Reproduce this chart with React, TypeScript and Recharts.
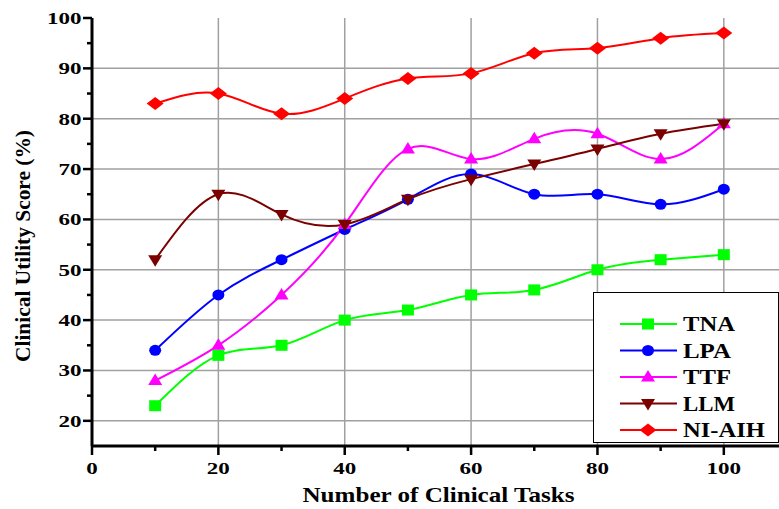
import React from 'react';
import { LineChart, Line, XAxis, YAxis, ReferenceLine } from 'recharts';

const tasks = [10, 20, 30, 40, 50, 60, 70, 80, 90, 100];
const tna = [23, 33, 35, 40, 42, 45, 46, 50, 52, 53];
const lpa = [34, 45, 52, 58, 64, 69, 65, 65, 63, 66];
const ttf = [28, 35, 45, 59, 74, 72, 76, 77, 72, 79];
const llm = [52, 65, 61, 59, 64, 68, 71, 74, 77, 79];
const niaih = [83, 85, 81, 84, 88, 89, 93, 94, 96, 97];

const xTicks = [0, 10, 20, 30, 40, 50, 60, 70, 80, 90, 100];
const xLabelTicks = [0, 20, 40, 60, 80, 100];
const topTicks = [11, 22, 33, 44, 55, 66, 77, 88, 99];
const topLongTicks = [22, 44, 66, 88];
const yTicks = [20, 25, 30, 35, 40, 45, 50, 55, 60, 65, 70, 75, 80, 85, 90, 95, 100];
const yLabelTicks = [20, 30, 40, 50, 60, 70, 80, 90, 100];
const xGrid = [20, 40, 60, 80, 100];
const yGrid = [20, 30, 40, 50, 60, 70, 80, 90];

const series = [
  { key: 'TNA', values: tna, color: '#00ff00', shape: 'square' },
  { key: 'LPA', values: lpa, color: '#0000ff', shape: 'circle' },
  { key: 'TTF', values: ttf, color: '#ff00ff', shape: 'up' },
  { key: 'LLM', values: llm, color: '#7b0000', shape: 'down' },
  { key: 'NI-AIH', values: niaih, color: '#ff0000', shape: 'diamond' },
];

const data = tasks.map((t, i) => {
  const row: any = { x: t };
  series.forEach((s) => (row[s.key] = s.values[i]));
  return row;
});

const FONT = 'Liberation Serif';
const txt = { fontFamily: FONT, fontWeight: 700 };

const Marker = ({ cx, cy, shape, color }: any) => {
  if (cx == null || cy == null) return null;
  switch (shape) {
    case 'square':
      return <rect x={cx - 6} y={cy - 5.5} width={12} height={11} fill={color} />;
    case 'circle':
      return <ellipse cx={cx} cy={cy} rx={6} ry={5.5} fill={color} />;
    case 'up':
      return <polygon points={`${cx},${cy - 7} ${cx + 7},${cy + 4.5} ${cx - 7},${cy + 4.5}`} fill={color} />;
    case 'down':
      return <polygon points={`${cx},${cy + 7} ${cx + 7},${cy - 4.5} ${cx - 7},${cy - 4.5}`} fill={color} />;
    default:
      return <polygon points={`${cx},${cy - 6.5} ${cx + 8.5},${cy} ${cx},${cy + 6.5} ${cx - 8.5},${cy}`} fill={color} />;
  }
};

const numWidth = (v: number) => String(v).length * 11.5;

const BottomTick = ({ x, y, payload }: any) => {
  const major = xLabelTicks.includes(payload.value);
  return (
    <g>
      <line x1={x} y1={y} x2={x} y2={y + (major ? 9 : 5)} stroke="#000" strokeWidth={2.5} />
      {major && (
        <text
          x={x}
          y={y + 28}
          textAnchor="middle"
          textLength={numWidth(payload.value)}
          lengthAdjust="spacingAndGlyphs"
          style={{ ...txt, fontSize: 16 }}
          fill="#000"
        >
          {payload.value}
        </text>
      )}
    </g>
  );
};

const TopTick = ({ x, y, payload }: any) => (
  <line x1={x} y1={y} x2={x} y2={y + (topLongTicks.includes(payload.value) ? 10 : 5)} stroke="#000" strokeWidth={2.5} />
);

const LeftTick = ({ x, y, payload }: any) => {
  const major = yLabelTicks.includes(payload.value);
  const w = numWidth(payload.value);
  return (
    <g>
      <line x1={x} y1={y} x2={x - (major ? 9 : 5)} y2={y} stroke="#000" strokeWidth={2.5} />
      {major && (
        <text
          x={x - 10.5 - w}
          y={y + 6}
          textLength={w}
          lengthAdjust="spacingAndGlyphs"
          style={{ ...txt, fontSize: 16 }}
          fill="#000"
        >
          {payload.value}
        </text>
      )}
    </g>
  );
};

const XTitle = ({ viewBox }: any) => {
  const cx = viewBox.x + viewBox.width / 2 - 1;
  return (
    <text
      x={cx - 136}
      y={502}
      textLength={272}
      lengthAdjust="spacingAndGlyphs"
      style={{ ...txt, fontSize: 22 }}
      fill="#000"
    >
      Number of Clinical Tasks
    </text>
  );
};

const YTitle = ({ viewBox }: any) => {
  const cy = viewBox.y + viewBox.height / 2 + 14;
  return (
    <text
      x={0}
      y={0}
      transform={`translate(30, ${cy}) rotate(-90)`}
      textAnchor="start"
      dx={-116}
      textLength={232}
      lengthAdjust="spacingAndGlyphs"
      style={{ ...txt, fontSize: 21 }}
      fill="#000"
    >
      Clinical Utility Score (%)
    </text>
  );
};

const legendTextWidth: Record<string, number> = { TNA: 52, LPA: 48, TTF: 48, LLM: 52, 'NI-AIH': 82 };

const LegendBox = () => (
  <div
    style={{
      position: 'absolute',
      left: 593,
      top: 292,
      border: '1.5px solid #000',
      background: '#fff',
      width: 186,
      height: 151,
      boxSizing: 'border-box',
    }}
  >
    <svg width={186} height={151} style={{ display: 'block', marginLeft: -1.5, marginTop: -1.5 }}>
      {series.map((s, i) => {
        const y = 32 + i * 26.5;
        return (
          <g key={s.key}>
            <line x1={27} y1={y} x2={84} y2={y} stroke={s.color} strokeWidth={2} />
            <Marker cx={55} cy={y} shape={s.shape} color={s.color} />
            <text
              x={90}
              y={y + 7}
              textLength={legendTextWidth[s.key]}
              lengthAdjust="spacingAndGlyphs"
              style={{ ...txt, fontSize: 20 }}
              fill="#000"
            >
              {s.key}
            </text>
          </g>
        );
      })}
    </svg>
  </div>
);

export default function App() {
  return (
    <div style={{ position: 'absolute', left: 0, top: 0, width: 779, height: 509, overflow: 'hidden', background: '#fff' }}>
      <LineChart width={790} height={509} data={data} margin={{ top: 18, right: 3, bottom: 0, left: 0 }}>
        <XAxis
          dataKey="x"
          type="number"
          domain={[0, 110]}
          ticks={xTicks}
          interval={0}
          height={63}
          tickSize={0}
          tickMargin={0}
          tickLine={false}
          tick={<BottomTick />}
          axisLine={{ stroke: '#000', strokeWidth: 3 }}
          label={<XTitle />}
        />
        <XAxis
          xAxisId="top"
          orientation="top"
          type="number"
          domain={[0, 110]}
          ticks={topTicks}
          interval={0}
          height={0}
          mirror
          tickSize={0}
          tickMargin={0}
          tickLine={false}
          tick={<TopTick />}
          axisLine={{ stroke: '#000', strokeWidth: 3 }}
        />
        <YAxis
          type="number"
          domain={[15, 100]}
          ticks={yTicks}
          interval={0}
          width={92}
          tickSize={0}
          tickMargin={0}
          tickLine={false}
          tick={<LeftTick />}
          axisLine={{ stroke: '#000', strokeWidth: 3 }}
          label={<YTitle />}
        />
        {xGrid.map((v) => (
          <ReferenceLine key={'gx' + v} x={v} stroke="#a0a0a0" strokeWidth={1.5} />
        ))}
        {yGrid.map((v) => (
          <ReferenceLine key={'gy' + v} y={v} stroke="#a0a0a0" strokeWidth={1.5} />
        ))}
        {series.map((s) => (
          <Line
            key={s.key}
            dataKey={s.key}
            type="natural"
            stroke={s.color}
            strokeWidth={2}
            dot={(p: any) => <Marker key={s.key + p.index} cx={p.cx} cy={p.cy} shape={s.shape} color={s.color} />}
            activeDot={false}
            isAnimationActive={false}
          />
        ))}
      </LineChart>
      <LegendBox />
    </div>
  );
}
